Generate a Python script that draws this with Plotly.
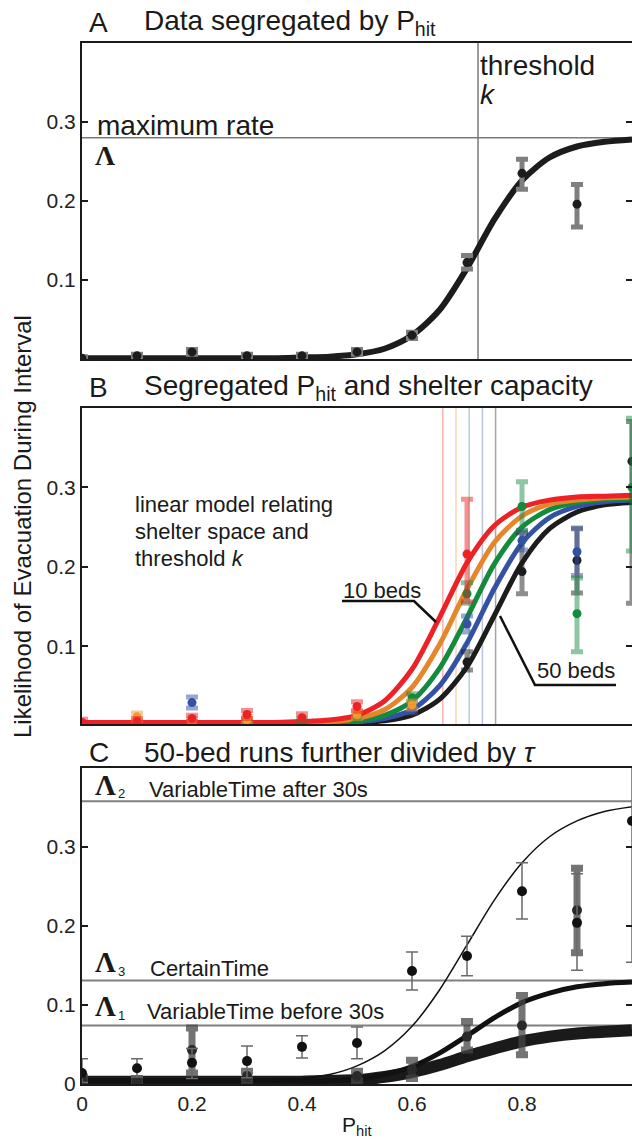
import plotly.graph_objects as go

W, H = 632, 1140
FONT = "Liberation Sans, Arial, Helvetica, sans-serif"
SERIF = "Liberation Serif, Times New Roman, serif"

# ---------------- shared x grid for the fitted curves ----------------
curve_x = [0.00, 0.05, 0.10, 0.15, 0.20, 0.25, 0.30, 0.35, 0.40, 0.45, 0.50,
           0.55, 0.60, 0.65, 0.70, 0.75, 0.80, 0.85, 0.90, 0.95, 1.00]

# ---------------- Panel A ----------------
a_x = [0.0, 0.1, 0.2, 0.3, 0.4, 0.5, 0.6, 0.7, 0.8, 0.9]
a_y = [0.001, 0.004, 0.009, 0.004, 0.004, 0.009, 0.030, 0.122, 0.235, 0.196]
a_err_up = [0.002, 0.002, 0.003, 0.002, 0.002, 0.003, 0.004, 0.009, 0.018, 0.025]
a_err_dn = [0.002, 0.002, 0.003, 0.002, 0.002, 0.003, 0.004, 0.008, 0.020, 0.029]
a_fit = [0.001, 0.001, 0.001, 0.001, 0.001, 0.001, 0.001, 0.001, 0.002, 0.003, 0.006,
         0.013, 0.030, 0.062, 0.115, 0.177, 0.226, 0.255, 0.269, 0.275, 0.278]
a_lambda = 0.28
a_k = 0.72

# ---------------- Panel B ----------------
b_fit_red = [0.004, 0.004, 0.004, 0.004, 0.004, 0.004, 0.004, 0.004, 0.005, 0.007, 0.013,
             0.031, 0.071, 0.136, 0.205, 0.252, 0.275, 0.284, 0.288, 0.289, 0.290]
b_fit_orange = [0.004, 0.004, 0.004, 0.004, 0.004, 0.004, 0.004, 0.004, 0.004, 0.005, 0.009,
                0.020, 0.048, 0.102, 0.172, 0.231, 0.264, 0.279, 0.284, 0.287, 0.288]
b_fit_green = [0.004, 0.004, 0.004, 0.004, 0.004, 0.004, 0.004, 0.004, 0.004, 0.004, 0.006,
               0.013, 0.031, 0.072, 0.136, 0.204, 0.250, 0.272, 0.281, 0.285, 0.286]
b_fit_blue = [0.004, 0.004, 0.004, 0.004, 0.004, 0.004, 0.004, 0.004, 0.004, 0.004, 0.005,
              0.009, 0.020, 0.050, 0.104, 0.173, 0.230, 0.262, 0.276, 0.282, 0.284]
b_fit_black = [0.004, 0.004, 0.004, 0.004, 0.004, 0.004, 0.004, 0.004, 0.004, 0.004, 0.004,
               0.006, 0.013, 0.033, 0.074, 0.139, 0.205, 0.248, 0.269, 0.278, 0.281]
b_k = [0.656, 0.680, 0.704, 0.728, 0.752]   # red, orange, green, blue, black thresholds

b_red_x = [0.0, 0.1, 0.2, 0.3, 0.4, 0.5, 0.7]
b_red_y = [0.004, 0.005, 0.009, 0.014, 0.010, 0.024, 0.216]
b_red_up = [0.004, 0.004, 0.004, 0.005, 0.005, 0.006, 0.069]
b_red_dn = [0.004, 0.004, 0.004, 0.005, 0.005, 0.006, 0.060]

b_orange_x = [0.1, 0.2, 0.3, 0.5, 0.6]
b_orange_y = [0.011, 0.004, 0.007, 0.014, 0.026]
b_orange_up = [0.005, 0.004, 0.004, 0.005, 0.005]
b_orange_dn = [0.005, 0.004, 0.004, 0.005, 0.005]

b_green_x = [0.3, 0.4, 0.5, 0.6, 0.7, 0.8, 0.9, 1.0]
b_green_y = [0.004, 0.006, 0.007, 0.035, 0.166, 0.276, 0.141, 0.300]
b_green_up = [0.003, 0.003, 0.003, 0.005, 0.014, 0.031, 0.045, 0.087]
b_green_dn = [0.003, 0.003, 0.003, 0.005, 0.012, 0.030, 0.048, 0.080]

b_blue_x = [0.2, 0.6, 0.7, 0.8, 0.9]
b_blue_y = [0.029, 0.020, 0.128, 0.233, 0.219]
b_blue_up = [0.007, 0.004, 0.010, 0.012, 0.030]
b_blue_dn = [0.007, 0.004, 0.010, 0.012, 0.030]

b_black_x = [0.7, 0.8, 0.9, 1.0]
b_black_y = [0.080, 0.194, 0.208, 0.333]
b_black_up = [0.013, 0.049, 0.040, 0.050]
b_black_dn = [0.010, 0.028, 0.041, 0.179]

# ---------------- Panel C ----------------
c_fit_after = [0.003, 0.003, 0.003, 0.003, 0.003, 0.003, 0.003, 0.004, 0.007, 0.012, 0.023,
               0.042, 0.073, 0.119, 0.176, 0.233, 0.280, 0.313, 0.333, 0.345, 0.351]
c_fit_certain = [0.004, 0.004, 0.004, 0.004, 0.004, 0.004, 0.004, 0.004, 0.004, 0.004, 0.006,
                 0.012, 0.022, 0.039, 0.061, 0.084, 0.103, 0.115, 0.123, 0.127, 0.129]
c_fit_before = [0.003, 0.003, 0.003, 0.003, 0.003, 0.003, 0.003, 0.003, 0.003, 0.004, 0.005,
                0.009, 0.015, 0.024, 0.035, 0.045, 0.054, 0.060, 0.064, 0.066, 0.068]
c_lambda = [0.358, 0.131, 0.074]   # Lambda2 (after 30s), Lambda3 (certain), Lambda1 (before 30s)

c_after_x = [0.0, 0.1, 0.2, 0.3, 0.4, 0.5, 0.6, 0.7, 0.8, 0.9, 1.0]
c_after_y = [0.014, 0.020, 0.027, 0.029, 0.047, 0.052, 0.143, 0.162, 0.244, 0.204, 0.333]
c_after_up = [0.018, 0.012, 0.018, 0.019, 0.014, 0.020, 0.024, 0.025, 0.036, 0.062, 0.080]
c_after_dn = [0.012, 0.011, 0.020, 0.021, 0.014, 0.020, 0.024, 0.025, 0.035, 0.060, 0.179]

c_grp_x = [0.0, 0.1, 0.2, 0.3, 0.5, 0.6, 0.7, 0.8, 0.9]
c_grp_y = [0.005, 0.004, 0.043, 0.010, 0.010, 0.018, 0.060, 0.074, 0.220]
c_grp_up = [0.004, 0.003, 0.028, 0.006, 0.006, 0.012, 0.019, 0.038, 0.053]
c_grp_dn = [0.004, 0.003, 0.029, 0.008, 0.006, 0.011, 0.017, 0.037, 0.054]

x_ticks = [0, 0.2, 0.4, 0.6, 0.8]
x_tick_text = ["0", "0.2", "0.4", "0.6", "0.8"]

# ---------------- colours ----------------
RED, ORANGE, GREEN, BLUE, BLACK = "#ec2226", "#e5862b", "#138a3c", "#3452a4", "#1c1c1c"
RED_L = "rgba(236,34,38,0.5)"
ORANGE_L = "rgba(240,150,60,0.5)"
GREEN_L = "rgba(30,140,70,0.5)"
BLUE_L = "rgba(52,82,164,0.5)"
BLACK_L = "rgba(30,30,30,0.5)"
VLINE_COLS = ["rgba(236,34,38,0.35)", "rgba(240,150,60,0.4)", "rgba(30,140,70,0.35)",
              "rgba(52,82,164,0.35)", "rgba(30,30,30,0.4)"]

fig = go.Figure()


def pts(x, y, up, dn, color, ecolor, xa, ya, size=9, thick=5, width=6):
    fig.add_trace(go.Scatter(
        x=x, y=y, mode="markers", xaxis=xa, yaxis=ya,
        marker=dict(color=color, size=size),
        error_y=dict(type="data", symmetric=False, array=up, arrayminus=dn,
                     color=ecolor, thickness=thick, width=width),
        hoverinfo="skip"))


def curve(y, color, w, xa, ya):
    fig.add_trace(go.Scatter(
        x=curve_x, y=y, mode="lines", xaxis=xa, yaxis=ya,
        line=dict(color=color, width=w, shape="spline", smoothing=0.8),
        hoverinfo="skip"))


# Panel A
curve(a_fit, BLACK, 6, "x", "y")
pts(a_x, a_y, a_err_up, a_err_dn, BLACK, "#7f7f7f", "x", "y", size=9, thick=5, width=6)

# Panel B
curve(b_fit_black, BLACK, 5, "x2", "y2")
curve(b_fit_blue, BLUE, 5, "x2", "y2")
curve(b_fit_green, GREEN, 5, "x2", "y2")
curve(b_fit_orange, ORANGE, 5, "x2", "y2")
curve(b_fit_red, RED, 5, "x2", "y2")
pts(b_black_x, b_black_y, b_black_up, b_black_dn, BLACK, BLACK_L, "x2", "y2")
pts(b_blue_x, b_blue_y, b_blue_up, b_blue_dn, BLUE, BLUE_L, "x2", "y2")
pts(b_green_x, b_green_y, b_green_up, b_green_dn, GREEN, GREEN_L, "x2", "y2")
pts(b_orange_x, b_orange_y, b_orange_up, b_orange_dn, "#f39a2a", ORANGE_L, "x2", "y2")
pts(b_red_x, b_red_y, b_red_up, b_red_dn, RED, RED_L, "x2", "y2")

# Panel C
curve(c_fit_before, "#1a1a1a", 12, "x3", "y3")
curve(c_fit_certain, "#111111", 5, "x3", "y3")
curve(c_fit_after, "#111111", 1.5, "x3", "y3")
pts(c_grp_x, c_grp_y, c_grp_up, c_grp_dn, "#2a2a2a", "rgba(70,70,70,0.75)", "x3", "y3",
    size=10, thick=7, width=6)
pts(c_after_x, c_after_y, c_after_up, c_after_dn, "#111111", "#6a6a6a", "x3", "y3",
    size=10, thick=1.5, width=6)

# ---------------- layout ----------------
X0 = 82 / W


def dom(top, bottom):
    return [1 - bottom / H, 1 - top / H]


def px(x):
    return x / W


def py(y):
    return 1 - y / H


axis_line = dict(showline=True, linecolor="#1a1a1a", linewidth=2, showgrid=False,
                 zeroline=False, automargin=False)
xcommon = dict(range=[0, 1], domain=[X0, 1], mirror=True, ticks="", **axis_line)
ycommon = dict(range=[0, 0.4], mirror="ticks", ticks="inside", ticklen=6, tickwidth=1.5,
               tickcolor="#1a1a1a", tickfont=dict(family=FONT, size=21, color="#222"),
               **axis_line)

fig.update_layout(
    width=W, height=H, autosize=False,
    margin=dict(l=0, r=0, t=0, b=0, pad=0, autoexpand=False),
    paper_bgcolor="white", plot_bgcolor="white",
    showlegend=False, hovermode=False,
    font=dict(family=FONT, color="#1a1a1a"),
    xaxis=dict(anchor="y", showticklabels=False, **xcommon),
    yaxis=dict(anchor="x", domain=dom(43, 359), tickvals=[0.1, 0.2, 0.3],
               ticktext=["0.1", "0.2", "0.3"], **ycommon),
    xaxis2=dict(anchor="y2", showticklabels=False, **xcommon),
    yaxis2=dict(anchor="x2", domain=dom(408, 724), tickvals=[0.1, 0.2, 0.3],
                ticktext=["0.1", "0.2", "0.3"], **{**ycommon, "range": [0.002, 0.4]}),
    xaxis3=dict(anchor="y3", showticklabels=True, tickvals=x_ticks, ticktext=x_tick_text,
                tickfont=dict(family=FONT, size=21, color="#222"), **xcommon),
    yaxis3=dict(anchor="x3", domain=dom(768, 1084), tickvals=[0, 0.1, 0.2, 0.3],
                ticktext=["0", "0.1", "0.2", "0.3"], **ycommon),
)

shapes = []
LINE_GRAY = "#7a7a7a"
# Panel A reference lines
shapes.append(dict(type="line", xref="x", yref="y domain", x0=a_k, x1=a_k, y0=0, y1=1,
                   line=dict(color=LINE_GRAY, width=1.5), layer="below"))
shapes.append(dict(type="line", xref="x domain", yref="y", x0=0, x1=1, y0=a_lambda,
                   y1=a_lambda, line=dict(color=LINE_GRAY, width=1.5), layer="below"))
# Panel B thresholds
for k, c in zip(b_k, VLINE_COLS):
    shapes.append(dict(type="line", xref="x2", yref="y2 domain", x0=k, x1=k, y0=0, y1=1,
                       line=dict(color=c, width=1.5), layer="below"))
# Panel C maximum-rate lines
for lam in c_lambda:
    shapes.append(dict(type="line", xref="x3 domain", yref="y3", x0=0, x1=1, y0=lam,
                       y1=lam, line=dict(color="#808080", width=2), layer="below"))
# leader lines for "10 beds" and "50 beds"
shapes.append(dict(type="path", xref="paper", yref="paper",
                   path=f"M {px(342)} {py(601)} L {px(414)} {py(601)} L {px(436)} {py(622)}",
                   line=dict(color="#111", width=2.5)))
shapes.append(dict(type="path", xref="paper", yref="paper",
                   path=f"M {px(500)} {py(616)} L {px(535)} {py(685)} L {px(616)} {py(685)}",
                   line=dict(color="#111", width=2.5)))
fig.update_layout(shapes=shapes)

ann = []


def text(x, y, s, size, family=FONT, xanchor="left", angle=0):
    ann.append(dict(x=px(x), y=py(y), xref="paper", yref="paper", text=s, showarrow=False,
                    xanchor=xanchor, yanchor="middle", textangle=angle,
                    font=dict(family=family, size=size, color="#1a1a1a")))


# panel titles
text(87, 23, "A", 28)
text(142, 23, "Data segregated by P<sub>hit</sub>", 28)
text(87, 388, "B", 28)
text(142, 388, "Segregated P<sub>hit</sub> and shelter capacity", 28)
text(87, 752, "C", 28)
text(142, 752, "50-bed runs further divided by <i>τ</i>", 28)

# panel A labels
text(478, 66, "threshold", 28)
text(478, 94, "<i>k</i>", 28)
text(95, 125, "maximum rate", 28)
text(93, 156, "<b>Λ</b>", 28, family=SERIF)

# panel B labels
text(133, 504, "linear model relating", 22)
text(133, 531, "shelter space and", 22)
text(133, 558, "threshold <i>k</i>", 22)
text(341, 590, "10 beds", 22)
text(535, 670, "50 beds", 22)

# panel C labels
text(93, 785, "<b>Λ</b>", 29, family=SERIF)
text(116, 794, "2", 13)
text(147, 789, "VariableTime after 30s", 22)
text(93, 962, "<b>Λ</b>", 29, family=SERIF)
text(116, 971, "3", 13)
text(148, 968, "CertainTime", 22)
text(93, 1006, "<b>Λ</b>", 29, family=SERIF)
text(116, 1015, "1", 13)
text(145, 1011, "VariableTime before 30s", 22)

# axis titles
text(357, 1126, "P<sub>hit</sub>", 21, xanchor="center")
text(22, 527, "Likelihood of Evacuation During Interval", 24, xanchor="center", angle=-90)

fig.update_layout(annotations=ann)

fig.write_html("out.html", config={"displayModeBar": False},
               post_script="document.body.style.margin='0';document.body.style.overflow='hidden';")
